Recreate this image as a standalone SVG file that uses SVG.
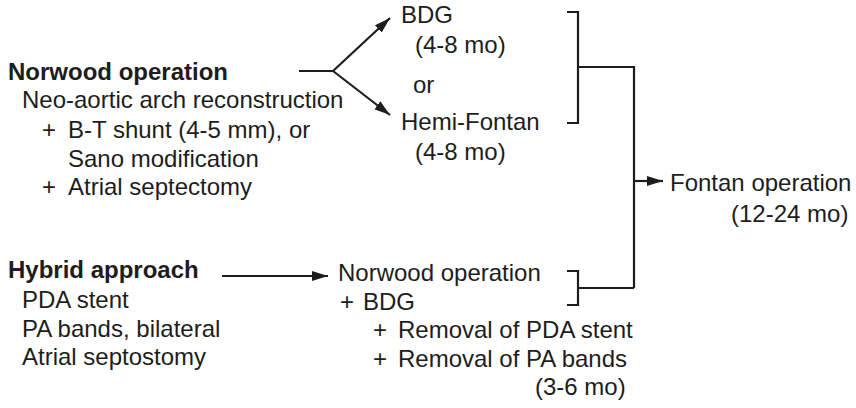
<svg xmlns="http://www.w3.org/2000/svg" width="856" height="408" viewBox="0 0 856 408">
<defs>
<style>
text{font-family:"Liberation Sans",Arial,Helvetica,sans-serif;font-size:24px;fill:#1d1d1d}
.b{font-weight:bold}
.ln{fill:none;stroke:#1d1d1d;stroke-width:2.2}
</style>
<marker id="ah" viewBox="0 0 16 10" refX="16" refY="5" markerWidth="16" markerHeight="10" markerUnits="userSpaceOnUse" orient="auto">
<path d="M0,0 L16,5 L0,10 Z" fill="#1d1d1d"/>
</marker>
</defs>
<rect width="856" height="408" fill="#fff"/>
<g id="connectors">
<path class="ln" d="M299,71 H333"/>
<path class="ln" d="M333,71 L390,18" marker-end="url(#ah)"/>
<path class="ln" d="M333,71 L390,115" marker-end="url(#ah)"/>
<path class="ln" d="M567,12 H578 V123 H567"/>
<path class="ln" d="M578,67 H634 V288"/>
<path class="ln" d="M567,271 H578 V305 H567"/>
<path class="ln" d="M578,288 H634"/>
<path class="ln" d="M634,181 H663" marker-end="url(#ah)"/>
<path class="ln" d="M222,276 H328" marker-end="url(#ah)"/>
</g>
<g id="norwood">
<text class="b" x="8" y="80">Norwood operation</text>
<text x="22" y="108">Neo-aortic arch reconstruction</text>
<text y="138"><tspan x="42">+</tspan><tspan x="68">B-T shunt (4-5 mm), or</tspan></text>
<text x="68" y="167">Sano modification</text>
<text y="195"><tspan x="42">+</tspan><tspan x="68">Atrial septectomy</tspan></text>
</g>
<g id="bdg">
<text x="401" y="23">BDG</text>
<text x="415" y="53">(4-8 mo)</text>
<text x="413" y="93">or</text>
<text x="401" y="130">Hemi-Fontan</text>
<text x="415" y="160">(4-8 mo)</text>
</g>
<g id="fontan">
<text x="670" y="191">Fontan operation</text>
<text x="731" y="222">(12-24 mo)</text>
</g>
<g id="hybrid">
<text class="b" x="8" y="278">Hybrid approach</text>
<text x="22" y="308">PDA stent</text>
<text x="22" y="337">PA bands, bilateral</text>
<text x="22" y="365">Atrial septostomy</text>
</g>
<g id="norwood-bdg">
<text x="338" y="281">Norwood operation</text>
<text y="310"><tspan x="340">+</tspan><tspan x="363">BDG</tspan></text>
<text y="338"><tspan x="373">+</tspan><tspan x="398">Removal of PDA stent</tspan></text>
<text y="367"><tspan x="373">+</tspan><tspan x="398">Removal of PA bands</tspan></text>
<text x="535" y="395">(3-6 mo)</text>
</g>
</svg>
